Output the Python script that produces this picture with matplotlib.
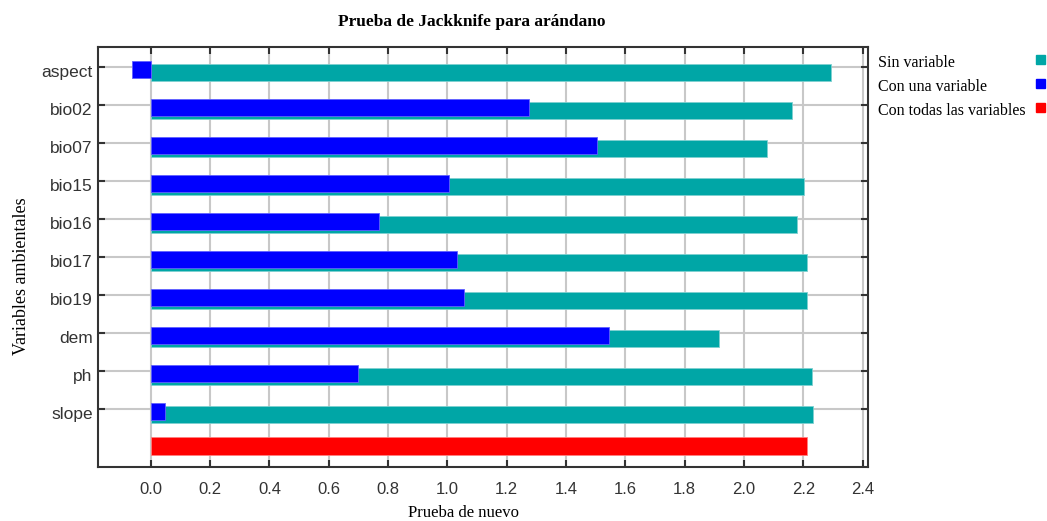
import numpy as np
import matplotlib
matplotlib.use("Agg")
import matplotlib.pyplot as plt
from matplotlib.patches import Rectangle
from matplotlib.transforms import ScaledTranslation

# jackknife results (regularized training gain)
variables = ["aspect", "bio02", "bio07", "bio15", "bio16", "bio17", "bio19", "dem", "ph", "slope"]
sin_variable = [2.293, 2.162, 2.077, 2.203, 2.178, 2.213, 2.213, 1.917, 2.228, 2.233]
con_una_variable = [-0.062, 1.276, 1.503, 1.005, 0.770, 1.031, 1.056, 1.545, 0.698, 0.049]
con_todas = 2.213

legend_labels = ["Sin variable", "Con una variable", "Con todas las variables"]
colors = ["#00A6A6", "#0000FF", "#FF0000"]
xticks = np.arange(0.0, 2.41, 0.2)

serif = ["Liberation Serif", "DejaVu Serif"]
sans = ["Liberation Sans", "DejaVu Sans"]

fig = plt.figure(figsize=(10.47, 5.21), dpi=100)
ax = fig.add_axes([0.0939, 0.1042, 0.7348, 0.805])

pos = np.arange(len(variables))
ax.barh(pos + 0.15, sin_variable, height=0.447, color=colors[0],
        edgecolor="#7fd0d0", linewidth=0.6, zorder=2)
ax.barh(pos + 0.066, con_una_variable, height=0.447, color=colors[1],
        edgecolor="#6060ff", linewidth=0.6, zorder=3)
ax.barh([len(variables) - 0.04], [con_todas], height=0.46, color=colors[2],
        edgecolor="#ff8080", linewidth=0.6, zorder=3)

ax.set_xlim(-0.177, 2.417)
ax.set_ylim(10.51, -0.51)
ax.set_xticks(xticks)
ax.set_xticklabels([f"{v:.1f}" for v in xticks], family=sans, fontsize=12, color="#333333")
ax.set_yticks(pos)
ax.set_yticklabels(variables, family=sans, fontsize=12.5, color="#333333")

ax.grid(True, color="#c8c8c8", linewidth=1.5, zorder=0)
ax.set_axisbelow(True)
ax.tick_params(direction="in", length=5, width=1.5, color="#333333",
               top=True, right=True)
ax.tick_params(axis="x", pad=11)
ax.tick_params(axis="y", pad=4)
# y labels sit a little below their tick
shift = ScaledTranslation(0, -3 / 72, fig.dpi_scale_trans)
for lab in ax.get_yticklabels():
    lab.set_transform(lab.get_transform() + shift)
for sp in ax.spines.values():
    sp.set_linewidth(1.5)
    sp.set_color("#333333")

ax.set_xlabel("Prueba de nuevo", family=serif, fontsize=12)
ax.xaxis.set_label_coords(0.475, -0.092)
ax.set_ylabel("Variables ambientales", family=serif, fontsize=13)
ax.yaxis.set_label_coords(-0.089, 0.455)
fig.text(0.4505, 0.958, "Prueba de Jackknife para arándano", family=serif,
         fontsize=12.5, fontweight="bold", ha="center", va="center")

# legend: text on the left, colour square on the right
for i, (lab, col) in enumerate(zip(legend_labels, colors)):
    y = 1 - (63 + 24 * i) / 521
    fig.text(878 / 1047, y, lab, family=serif, fontsize=11.5, ha="left", va="center")
    fig.patches.append(Rectangle((1036 / 1047, y - 1 / 521), 9 / 1047, 9 / 521,
                                 transform=fig.transFigure, color=col))

fig.savefig("out.png", dpi=100)
